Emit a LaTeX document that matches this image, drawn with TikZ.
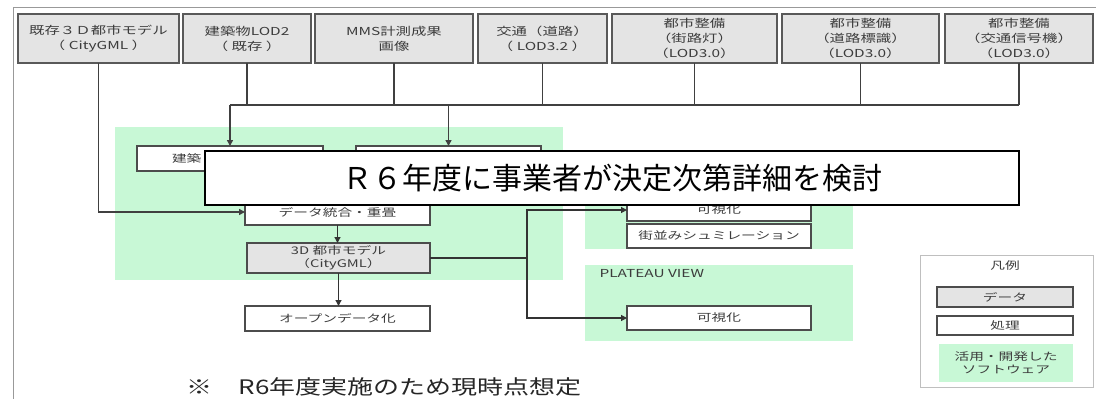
\documentclass[tikz,border=0pt]{standalone}
\usepackage{fontspec}
\setmainfont{Noto Sans CJK JP}
\newfontfamily\boxfont{Noto Sans CJK JP}[FakeStretch=1.4]
\newfontfamily\notefont{Noto Sans CJK JP}[FakeStretch=1.3]
\usetikzlibrary{arrows.meta}
\definecolor{soft}{RGB}{200,248,214}
\definecolor{datagray}{RGB}{228,228,228}
\definecolor{ink}{RGB}{60,60,60}
\tikzset{
  src/.style={draw=black!65, line width=1.8pt, fill=datagray, minimum height=49,
    inner sep=0, outer sep=0, align=center, text=ink,
    font=\boxfont\fontsize{11}{15}\selectfont},
  proc/.style={draw=black!70, line width=1.3pt, fill=white, inner sep=0,
    outer sep=0, align=center, text=ink, font=\boxfont\fontsize{10.5}{13}\selectfont},
  datum/.style={proc, fill=datagray},
  feed/.style={draw=black!75, line width=1.8pt},
  arr/.style={draw=black!80, line width=1.2pt, -{Triangle[length=6pt,width=6pt]}},
}
\begin{document}
\begin{tikzpicture}[x=1pt,y=-1pt]
  \useasboundingbox (0,0) rectangle (1096,399);
  % frame
  \draw[black!40, line width=0.8pt] (13,399) -- (13,7) -- (1096,7);
  % software areas
  \fill[soft] (115,127) rectangle (563,280);
  \fill[soft] (585,183) rectangle (853,249);
  \fill[soft] (585,265) rectangle (853,341);
  \node[anchor=west, text=ink, font=\boxfont\fontsize{11}{13}\selectfont] (pv) at (596,274) {PLATEAU VIEW};
  % data sources
  \node[src, minimum width=161] (src1) at (98.5,38.5) {既存３Ｄ都市モデル\\（ CityGML ）};
  \node[src, minimum width=128] (src2) at (247,38.5) {建築物LOD2\\（ 既存 ）};
  \node[src, minimum width=158] (src3) at (394,38.5) {MMS計測成果\\画像};
  \node[src, minimum width=129] (src4) at (542.5,38.5) {交通（道路）\\（ LOD3.2 ）};
  \node[src, minimum width=165] (src5) at (694.5,38.5) {都市整備\\（街路灯）\\（LOD3.0）};
  \node[src, minimum width=157] (src6) at (860.5,38.5) {都市整備\\（道路標識）\\（LOD3.0）};
  \node[src, minimum width=148] (src7) at (1019,38.5) {都市整備\\（交通信号機）\\（LOD3.0）};
  % processing
  \node[proc, minimum width=186, minimum height=25, text width=116, align=left] (bldA) at (230,158.5) {建築};
  \node[proc, minimum width=185, minimum height=25] (bldB) at (448.5,158.5) {};
  \node[proc, minimum width=185, minimum height=26] (merge) at (337.5,212) {データ統合・重畳};
  \node[datum, minimum width=183, minimum height=30] (model) at (338.5,258) {3D 都市モデル\\（CityGML）};
  \node[proc, minimum width=185, minimum height=25] (opendata) at (337.5,318.5) {オープンデータ化};
  \node[proc, minimum width=184, minimum height=22] (vis1) at (719,210) {可視化};
  \node[proc, minimum width=184, minimum height=24] (sim) at (719,236) {街並みシュミレーション};
  \node[proc, minimum width=184, minimum height=24] (vis2) at (719,318) {可視化};
  % connectors
  \coordinate (bus) at (0,105);
  \foreach \s in {2,...,7}
    \draw[feed] (src\s.south) -- (src\s.south |- bus);
  \draw[feed] (bldA.north |- bus) -- (src7.south |- bus);
  \draw[arr, feed] (bldA.north |- bus) -- (bldA.north);
  \draw[arr, feed] (bldB.north |- bus) -- (bldB.north);
  \draw[arr, feed] (src1.south) |- (merge.west);
  \draw[arr] (merge.south) -- (merge.south |- model.north);
  \draw[arr] (model.south) -- (model.south |- opendata.north);
  \coordinate (split) at (527,258);
  \draw[arr] (model.east) -- (split) |- (vis1.west);
  \draw[arr] (split) |- (vis2.west);
  % legend
  \draw[black!25, line width=0.8pt] (920,255) rectangle (1093,387);
  \node[text=ink, font=\boxfont\fontsize{10.5}{13}\selectfont] (keytitle) at (1005,266) {凡例};
  \node[datum, minimum width=136, minimum height=20] (keydata) at (1005,297) {データ};
  \node[proc, minimum width=136, minimum height=19] (keyproc) at (1005,325.5) {処理};
  \node[fill=soft, minimum width=134, minimum height=38, inner sep=0, align=center, text=ink,
    font=\boxfont\fontsize{10.5}{13}\selectfont] (keysoft) at (1006,363) {活用・開発した\\ソフトウェア};
  % notes
  \node[anchor=west, text=black!85, font=\notefont\fontsize{20}{20}\selectfont] (note) at (183,387) {※　R6年度実施のため現時点想定};
  \node[draw=black, line width=1.3pt, fill=white, minimum width=814, minimum height=54, inner sep=0,
    font=\fontsize{30}{30}\selectfont] (pending) at (612,178) {Ｒ６年度に事業者が決定次第詳細を検討};
\end{tikzpicture}
\end{document}
